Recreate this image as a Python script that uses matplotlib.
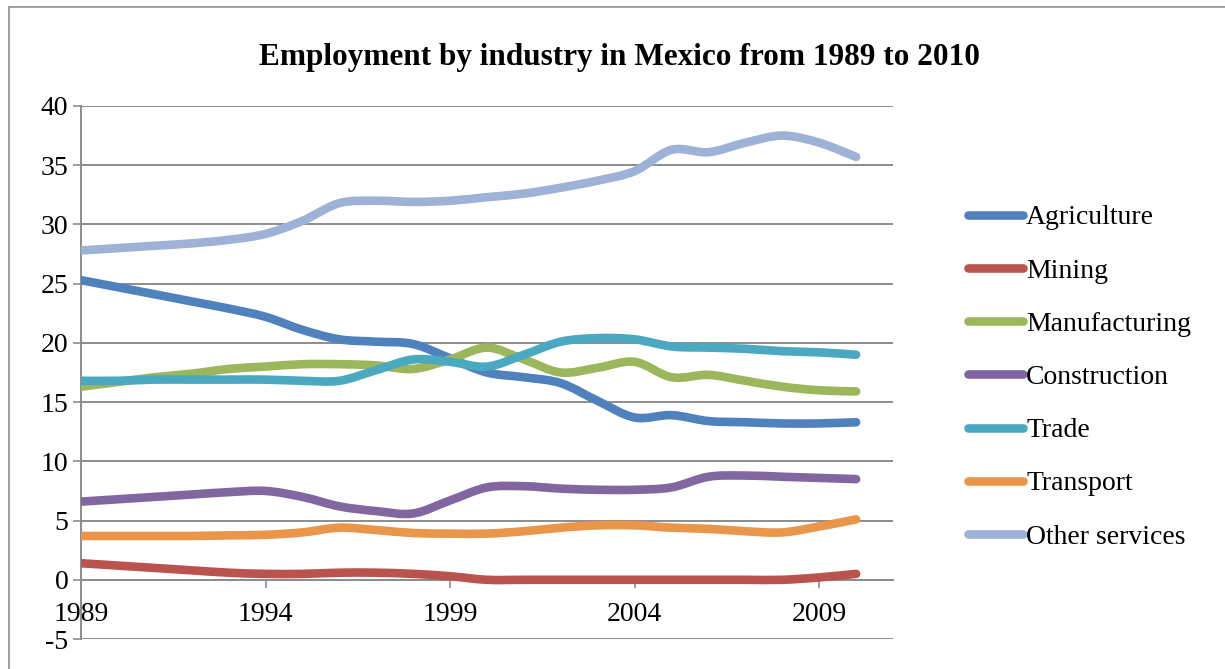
import numpy as np
import matplotlib
matplotlib.use("Agg")
import matplotlib.pyplot as plt
from matplotlib.path import Path
from matplotlib.patches import PathPatch
from matplotlib.lines import Line2D

plt.rcParams['font.family'] = ['Liberation Serif', 'DejaVu Serif']
plt.rcParams['axes.unicode_minus'] = False

years = list(range(1989, 2011))
agriculture = [25.3, 24.7, 24.1, 23.5, 22.9, 22.2, 21.1, 20.3, 20.1, 19.9, 18.7,
               17.5, 17.1, 16.6, 15.1, 13.7, 13.9, 13.4, 13.3, 13.2, 13.2, 13.3]
mining = [1.4, 1.2, 1.0, 0.8, 0.6, 0.5, 0.5, 0.6, 0.6, 0.5, 0.3,
          0.0, 0.0, 0.0, 0.0, 0.0, 0.0, 0.0, 0.0, 0.0, 0.2, 0.5]
manufacturing = [16.3, 16.7, 17.1, 17.4, 17.8, 18.0, 18.2, 18.2, 18.1, 17.8, 18.6,
                 19.6, 18.6, 17.5, 17.9, 18.4, 17.1, 17.3, 16.8, 16.3, 16.0, 15.9]
construction = [6.6, 6.8, 7.0, 7.2, 7.4, 7.5, 7.0, 6.2, 5.8, 5.6, 6.7,
                7.8, 7.9, 7.7, 7.6, 7.6, 7.8, 8.7, 8.8, 8.7, 8.6, 8.5]
trade = [16.8, 16.8, 16.9, 16.9, 16.9, 16.9, 16.8, 16.8, 17.7, 18.6, 18.4,
         18.0, 19.0, 20.1, 20.4, 20.3, 19.7, 19.6, 19.5, 19.3, 19.2, 19.0]
transport = [3.7, 3.7, 3.7, 3.7, 3.75, 3.8, 4.0, 4.4, 4.2, 3.95, 3.9,
             3.9, 4.1, 4.4, 4.6, 4.6, 4.4, 4.3, 4.1, 4.0, 4.5, 5.1]
other_services = [27.8, 28.0, 28.2, 28.4, 28.7, 29.2, 30.3, 31.8, 32.0, 31.9, 32.0,
                  32.3, 32.6, 33.1, 33.7, 34.5, 36.3, 36.1, 36.9, 37.5, 36.9, 35.7]

labels = ['Agriculture', 'Mining', 'Manufacturing', 'Construction',
          'Trade', 'Transport', 'Other services']
series = [agriculture, mining, manufacturing, construction,
          trade, transport, other_services]
colors = ['#4F81BD', '#BA534E', '#9BB75B', '#8166A0',
          '#4AA9C1', '#E9954A', '#9DB2D6']
xticks = [1989, 1994, 1999, 2004, 2009]


def smooth_path(x, y):
    # Excel-like smoothed line: cubic Bezier segments through the data points
    p = np.column_stack([x, y]).astype(float)
    n = len(p)
    verts = [p[0]]
    codes = [Path.MOVETO]
    for i in range(n - 1):
        p0 = p[max(i - 1, 0)]
        p1 = p[i]
        p2 = p[i + 1]
        p3 = p[min(i + 2, n - 1)]
        verts += [p1 + (p2 - p0) / 6, p2 - (p3 - p1) / 6, p2]
        codes += [Path.CURVE4] * 3
    return Path(verts, codes)


fig = plt.figure(figsize=(12.25, 6.69), dpi=100)
ax = fig.add_axes([0.0661, 0.0448, 0.6629, 0.7968])

LW = 6.2
for vals, c in zip(series, colors):
    patch = PathPatch(smooth_path(years, vals), facecolor='none', edgecolor=c,
                      lw=LW, capstyle='round', joinstyle='round', zorder=3)
    ax.add_patch(patch)

ax.set_xlim(1989, 2011)
ax.set_ylim(-5, 40)
ax.set_yticks(range(-5, 41, 5))
ax.set_xticks(xticks)
ax.grid(axis='y', color='#8C8C8C', lw=1.4)
ax.set_axisbelow(True)
for s in ['top', 'right']:
    ax.spines[s].set_visible(False)
ax.spines['bottom'].set_position(('data', 0))
ax.spines['bottom'].set_color('#8C8C8C')
ax.spines['bottom'].set_linewidth(1.4)
ax.spines['left'].set_color('#8C8C8C')
ax.spines['left'].set_linewidth(1.4)
ax.tick_params(axis='both', colors='#8C8C8C', labelcolor='black',
               labelsize=20, length=6, width=1.2)
ax.tick_params(axis='y', pad=3)
ax.tick_params(axis='x', pad=10)

fig.text(0.506, 0.914, 'Employment by industry in Mexico from 1989 to 2010',
         ha='center', va='center', fontsize=22.5, fontweight='bold')

handles = [Line2D([0], [0], color=c, lw=LW, solid_capstyle='round')
           for c in colors]
fig.legend(handles, labels, loc='center left', bbox_to_anchor=(0.781, 0.436),
           frameon=False, fontsize=20, handlelength=2.0, handletextpad=0.1,
           labelspacing=1.0, borderaxespad=0)

# chart border (left and top edges visible)
fig.add_artist(Line2D([9 / 1225, 9 / 1225], [0, 1 - 7 / 669],
                      transform=fig.transFigure, color='#9A9A9A', lw=1.3))
fig.add_artist(Line2D([9 / 1225, 1], [1 - 7 / 669, 1 - 7 / 669],
                      transform=fig.transFigure, color='#9A9A9A', lw=1.3))

fig.savefig('out.png', dpi=100)
